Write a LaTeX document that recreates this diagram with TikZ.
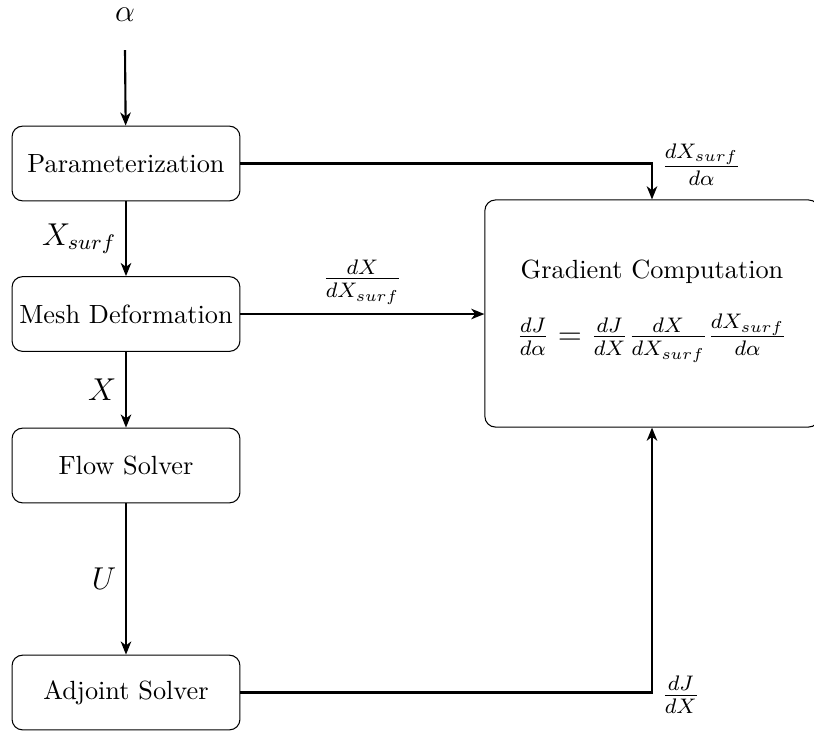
\documentclass[tikz,border=0pt]{standalone}
\usetikzlibrary{arrows.meta}
\begin{document}
\begin{tikzpicture}[x=0.38pt,y=-0.38pt,
  blk/.style={draw,rounded corners=4pt,minimum width=86.6pt,minimum height=28.4pt,inner sep=0pt},
  grad/.style={draw,rounded corners=4pt,minimum width=127pt,minimum height=86.3pt,inner sep=0pt},
  flow/.style={-{Stealth[length=5pt,width=4pt,inset=1.5pt]},thick},
  lbl/.style={font=\large}]
\useasboundingbox (0,0) rectangle (814,731);
\node[blk] (par) at (126,163.5) {Parameterization};
\node[blk] (mesh) at (126,314) {Mesh Deformation};
\node[blk] (flow) at (126,465.5) {Flow Solver};
\node[blk] (adj) at (126,692.5) {Adjoint Solver};
\node[grad] (gc) at (652,313.5) {};
\node (gct) at (652,272) {Gradient Computation};
\node[lbl] (gcf) at (652,338) {$\frac{dJ}{d\alpha}=\frac{dJ}{dX}\frac{dX}{dX_{surf}}\frac{dX_{surf}}{d\alpha}$};
\node[lbl] (alpha) at (125,15) {$\alpha$};
\coordinate (ain) at (125,50);
\draw[flow] (ain) -- (par);
\draw[flow] (par) -- node[lbl,left] {$X_{surf}$} (mesh);
\draw[flow] (mesh) -- node[lbl,left] {$X$} (flow);
\draw[flow] (flow) -- node[lbl,left] {$U$} (adj);
\draw[flow] (par.east) -| node[lbl,pos=0.5,above right,yshift=-12pt] {$\frac{dX_{surf}}{d\alpha}$} (gc.north);
\draw[flow] (mesh.east) -- node[lbl,above] {$\frac{dX}{dX_{surf}}$} (mesh.east -| gc.west);
\draw[flow] (adj.east) -| node[lbl,pos=0.5,below right,yshift=10pt] {$\frac{dJ}{dX}$} (gc.south);
\end{tikzpicture}
\end{document}
